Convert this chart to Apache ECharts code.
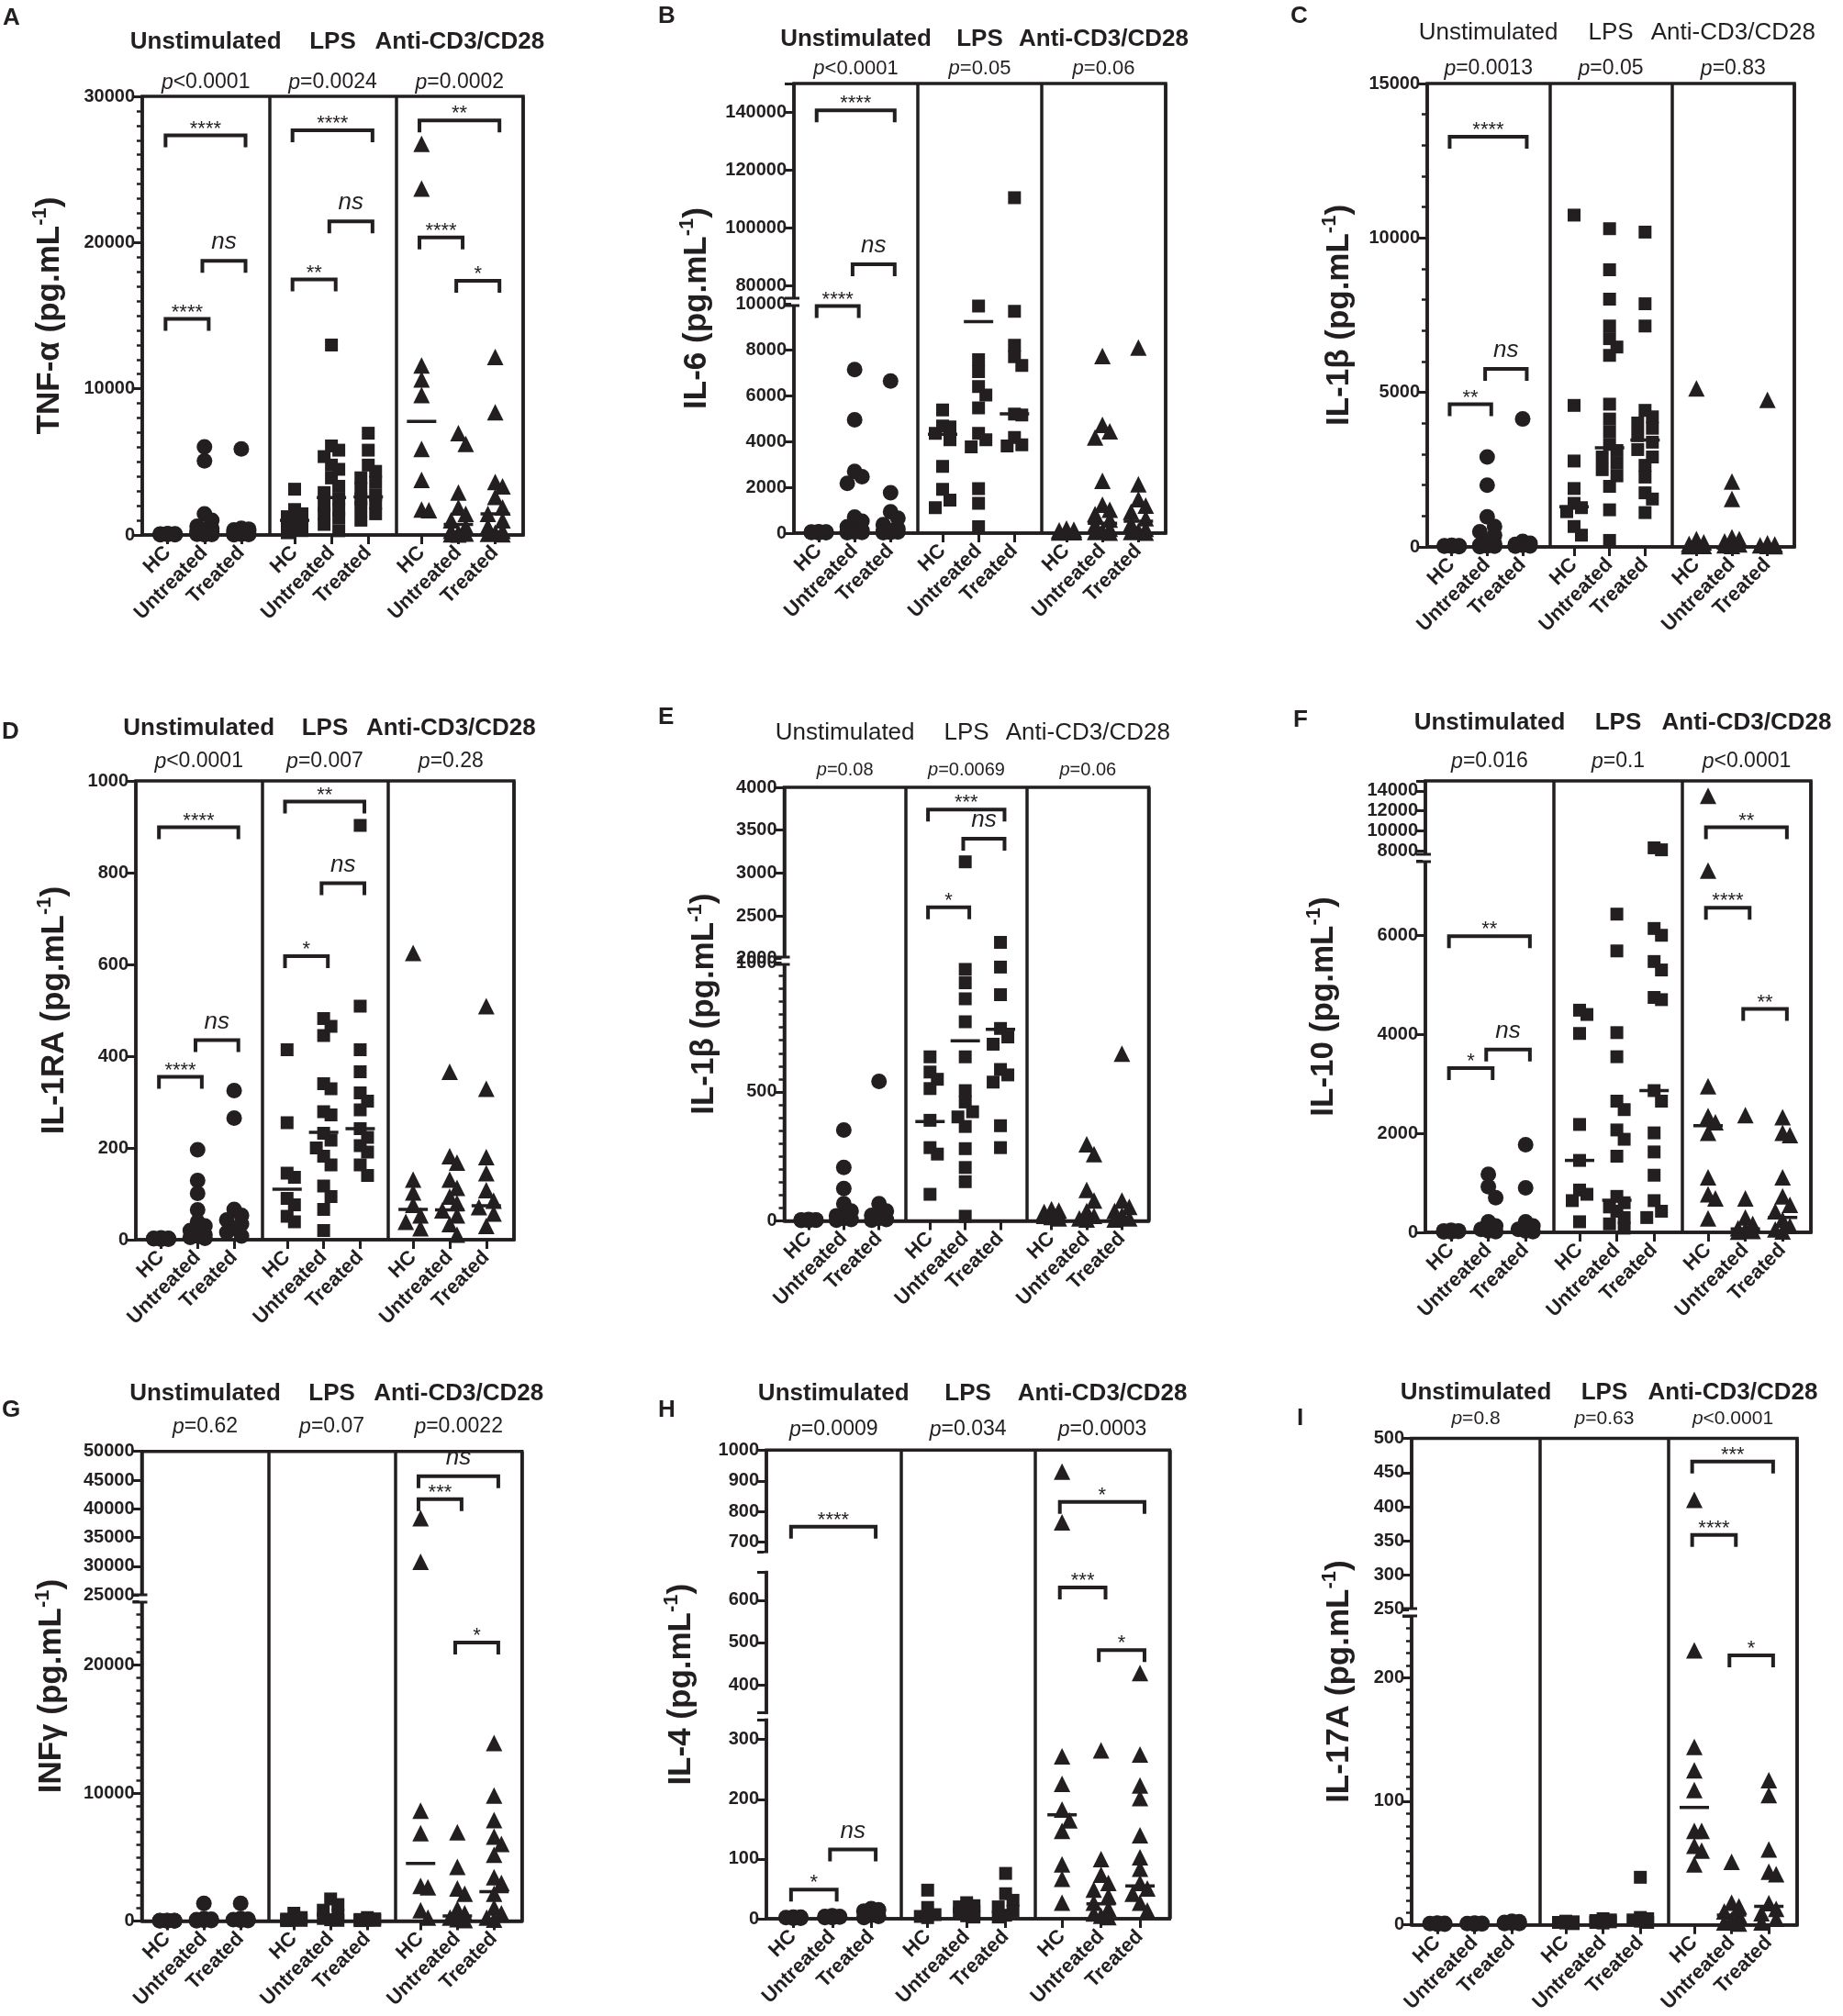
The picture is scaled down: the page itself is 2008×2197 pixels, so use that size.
<!DOCTYPE html>
<html>
<head>
<meta charset="utf-8">
<script src="https://cdn.jsdelivr.net/npm/echarts@6.0.0/dist/echarts.min.js"></script>
<style>
html, body { margin: 0; padding: 0; background: #fff; }
#main { width: 2008px; height: 2197px; }
</style>
</head>
<body>
<div id="main"></div>
<script>
// categories
const cats = ['HC', 'Untreated', 'Treated'];
const groups = ['Unstimulated', 'LPS', 'Anti-CD3/CD28'];

// A  TNF-a : values per group -> [HC, Untreated, Treated]
const tnfUnst = [[20, 40, 60, 80, 30, 50, 70, 10, 90], [6030, 5070, 1450, 1000, 600, 450, 400, 300, 250, 200, 150, 100, 80, 50, 30, 20], [5880, 450, 400, 350, 300, 250, 200, 150, 100, 50, 40, 30, 20]];
const tnfLps = [[3130, 1740, 1450, 1250, 1100, 900, 700, 500, 300, 150], [12990, 6090, 5800, 5360, 4780, 4490, 3900, 3330, 2900, 2460, 2030, 1740, 1450, 1160, 720, 290], [6960, 5800, 4780, 4350, 3910, 3620, 3190, 2750, 2460, 2170, 1880, 1450, 1010]];
const tnfAnti = [[26750, 23700, 11600, 10640, 9570, 5880, 3770, 1740, 1700], [6960, 6230, 2900, 1880, 1450, 1010, 580, 290, 150, 100, 50, 30], [12170, 8400, 3620, 3330, 2610, 1880, 1450, 1010, 580, 290, 150, 80, 40]];
const tnfMed = [[null, null, null], [1000, 2550, 2600], [7770, 720, 1450]];
const tnfP = ['<0.0001', '=0.0024', '=0.0002'];
const tnfSig = [[0, 0, 2, 27330, '****'], [0, 0, 1, 14780, '****'], [0, 1, 2, 18750, 'ns'], [1, 0, 2, 27680, '****'], [1, 0, 1, 17480, '**'], [1, 1, 2, 21450, 'ns'], [2, 0, 2, 28350, '**'], [2, 0, 1, 20350, '****'], [2, 1, 2, 17390, '*']];
const tnfScales = [{min: 0, max: 30000, ticks: [0, 10000, 20000, 30000], minor: 10}];

// B  IL-6
const il6Unst = [[20, 30, 40, 50, 60, 30, 20, 40, 50], [7130, 4940, 2690, 2460, 2170, 700, 520, 280, 190, 120, 80, 50, 30, 20], [6630, 1760, 930, 650, 370, 190, 120, 80, 50, 30, 20]];
const il6Lps = [[5370, 4670, 4630, 4350, 4070, 2910, 1910, 1440, 1110], [9900, 7560, 7040, 6390, 6020, 5460, 4350, 4070, 3760, 1940, 1300, 280], [110400, 9670, 8190, 7690, 7310, 5190, 5150, 4170, 3850, 3800]];
const il6Anti = [[200, 150, 120, 100, 80, 60, 50, 40, 30], [7720, 4720, 4440, 4170, 2280, 1240, 1020, 830, 590, 370, 190, 100, 50, 20], [8090, 2130, 1480, 1200, 930, 650, 410, 190, 100, 50, 20]];
const il6Med = [[null, null, null], [4310, 9220, 5200], [null, 430, 520]];
const il6P = ['<0.0001', '=0.05', '=0.06'];
const il6Sig = [[0, 0, 2, 140700, '****'], [0, 0, 1, 9900, '****'], [0, 1, 2, 87300, 'ns']];
const il6Scales = [{min: 0, max: 10000, ticks: [0, 2000, 4000, 6000, 8000, 10000]}, {min: 80000, max: 150000, ticks: [80000, 100000, 120000, 140000]}];

// C  IL-1b
const il1bUnst = [[10, 20, 30, 40, 50, 20, 30, 40], [2910, 2000, 970, 660, 490, 380, 180, 100, 60, 30, 20, 10], [4140, 180, 120, 80, 50, 30, 20]];
const il1bLps = [[10740, 4580, 2780, 1890, 1410, 1270, 1140, 660, 380], [10300, 8970, 8020, 7150, 6740, 6470, 6200, 4620, 4140, 3730, 3320, 3120, 2910, 2710, 2500, 2300, 1960, 1200, 210], [10190, 7870, 7150, 4420, 4210, 4010, 3840, 3600, 3390, 3150, 2910, 2640, 2260, 1750, 1550, 1110]];
const il1bAnti = [[5130, 250, 150, 100, 60, 30, 20], [2120, 1550, 310, 250, 180, 120, 80, 50, 30], [4760, 120, 80, 50, 30, 20]];
const il1bMed = [[null, null, null], [1300, 3210, 3460], [null, null, null]];
const il1bP = ['=0.0013', '=0.05', '=0.83'];
const il1bSig = [[0, 0, 2, 13280, '****'], [0, 0, 1, 4620, '**'], [0, 1, 2, 5760, 'ns']];
const il1bScales = [{min: 0, max: 15000, ticks: [0, 5000, 10000, 15000], minor: 5}];

// D  IL-1RA
const il1raUnst = [[1, 2, 3, 4, 2, 3, 1, 2], [196, 129, 101, 65, 39, 30, 20, 11, 8, 5, 3], [325, 265, 66, 53, 43, 34, 25, 16, 8]];
const il1raLps = [[414, 255, 145, 136, 90, 76, 51, 39], [482, 465, 445, 340, 329, 279, 272, 232, 217, 200, 182, 163, 117, 94, 66, 20], [903, 509, 414, 366, 320, 302, 283, 242, 223, 205, 191, 163, 140]];
const il1raAnti = [[625, 131, 103, 76, 53, 39, 25], [366, 182, 168, 131, 113, 94, 80, 64, 53, 34, 11], [509, 329, 180, 145, 108, 85, 71, 57, 30]];
const il1raMed = [[null, null, null], [110, 234, 242], [66, 65, 74]];
const il1raP = ['<0.0001', '=0.007', '=0.28'];
const il1raSig = [[0, 0, 2, 899, '****'], [0, 0, 1, 355, '****'], [0, 1, 2, 435, 'ns'], [1, 0, 2, 955, '**'], [1, 0, 1, 618, '*'], [1, 1, 2, 777, 'ns']];
const il1raScales = [{min: 0, max: 1000, ticks: [0, 200, 400, 600, 800, 1000]}];

// E  IL-1b (second assay)
const il1b2Unst = [[2, 3, 4, 5, 3, 2, 4], [352, 207, 125, 67, 38, 20, 10, 5, 3], [541, 67, 38, 21, 10, 5, 3]];
const il1b2Lps = [[636, 577, 549, 513, 390, 284, 259, 103], [3130, 975, 923, 861, 772, 636, 505, 461, 423, 403, 366, 280, 207, 152, 18], [2190, 984, 877, 746, 713, 685, 587, 566, 538, 369, 284]];
const il1b2Anti = [[45, 40, 35, 30, 25, 20, 15, 10], [297, 259, 120, 79, 38, 20, 10, 5], [648, 79, 54, 38, 21, 10, 5]];
const il1b2Med = [[null, null, null], [385, 698, 743], [null, null, null]];
const il1b2P = ['=0.08', '=0.0069', '=0.06'];
const il1b2Sig = [[1, 0, 2, 3740, '***'], [1, 0, 1, 2600, '*'], [1, 1, 2, 3400, 'ns']];
const il1b2Scales = [{min: 0, max: 1000, ticks: [0, 500, 1000], minor: 10}, {min: 2000, max: 4000, ticks: [2000, 2500, 3000, 3500, 4000]}];

// F  IL-10
const il10Unst = [[10, 20, 30, 40, 20, 30, 10], [1171, 923, 701, 214, 128, 60, 30, 15], [1769, 897, 214, 128, 60, 30, 15]];
const il10Lps = [[4487, 4400, 4017, 2179, 1453, 855, 769, 641, 214], [6427, 5684, 4034, 3547, 2650, 2479, 2068, 1880, 1538, 726, 598, 513, 427, 299, 171, 85], [8300, 8100, 6137, 6000, 5470, 5299, 4744, 4700, 2863, 2650, 2009, 1624, 1154, 641, 427, 299]];
const il10Anti = [[13504, 7308, 2949, 2350, 2222, 2009, 1111, 769, 684, 282], [2368, 684, 299, 171, 85, 50, 30, 15], [2325, 2009, 1966, 1111, 726, 556, 427, 256, 128, 60, 20]];
const il10Med = [[null, null, null], [1453, 650, 2863], [2154, 68, 299]];
const il10P = ['=0.016', '=0.1', '<0.0001'];
const il10Sig = [[0, 0, 2, 5983, '**'], [0, 0, 1, 3316, '*'], [0, 1, 2, 3692, 'ns'], [2, 0, 2, 10353, '**'], [2, 0, 1, 6556, '****'], [2, 1, 2, 4513, '**']];
const il10Scales = [{min: 0, max: 7500, ticks: [0, 2000, 4000, 6000]}, {min: 8000, max: 15000, ticks: [8000, 10000, 12000, 14000]}];

// G  INFg
const ifngUnst = [[10, 20, 30, 40, 20, 30, 10, 20], [1387, 200, 150, 100, 50, 30, 20], [1387, 200, 150, 100, 50, 30]];
const ifngLps = [[609, 271, 150, 100, 50, 30], [1726, 1286, 846, 440, 200, 100, 50], [271, 169, 120, 80, 50, 30]];
const ifngAnti = [[38383, 30789, 8629, 6870, 2741, 2640, 846, 271], [6937, 4230, 2538, 2132, 948, 609, 271, 150, 80], [13909, 9814, 7885, 6599, 6024, 5178, 3418, 2978, 2132, 1049, 609, 271, 100]];
const ifngMed = [[null, null, null], [null, null, null], [4500, 400, 2301]];
const ifngP = ['=0.62', '=0.07', '=0.0022'];
const ifngSig = [[2, 0, 2, 45677, 'ns'], [2, 0, 1, 41692, '***'], [2, 1, 2, 21760, '*']];
const ifngScales = [{min: 0, max: 25000, ticks: [0, 10000, 20000], minor: 10}, {min: 25000, max: 50000, ticks: [25000, 30000, 35000, 40000, 45000, 50000]}];

// H  IL-4
const il4Unst = [[1, 2, 3, 2, 1, 3, 2], [2, 3, 4, 5, 3, 2, 4], [17, 13, 6, 4, 2, 15]];
const il4Lps = [[48, 19, 7, 4, 2], [27, 20, 14, 9, 5, 3, 22, 12], [76, 42, 31, 20, 13, 6, 3]];
const il4Anti = [[930, 765, 272, 226, 183, 165, 147, 91, 67, 27], [282, 100, 74, 60, 49, 38, 27, 17, 9, 5, 3], [428, 275, 223, 202, 140, 103, 84, 60, 51, 42, 27, 14]];
const il4Med = [[null, null, null], [null, null, null], [174, 25, 55]];
const il4P = ['=0.0009', '=0.034', '=0.0003'];
const il4Sig = [[0, 0, 2, 751, '****'], [0, 0, 1, 49, '*'], [0, 1, 2, 116, 'ns'], [2, 0, 2, 831, '*'], [2, 0, 1, 630, '***'], [2, 1, 2, 482, '*']];
const il4Scales = [{min: 0, max: 333, ticks: [0, 100, 200, 300]}, {min: 334, max: 666, ticks: [400, 500, 600], custom: true}, {min: 669, max: 1000, ticks: [700, 800, 900, 1000], custom: true}];

// I  IL-17A
const il17Unst = [[0.5, 1, 1.5, 1, 0.5, 1.2], [0.5, 1, 1.5, 1, 0.8, 1.2], [1, 2, 3, 1.5, 2.5, 1]];
const il17Lps = [[1, 2, 3, 1.5, 2.5], [4, 2, 3, 5, 1.5, 2.5, 3.5], [38.5, 6, 4, 3, 2, 5]];
const il17Anti = [[410, 222, 144, 125, 109, 76, 76, 64, 60, 49], [51, 18, 15, 11, 8, 4, 2, 1], [117, 105, 61, 43, 41, 17.5, 13, 9.5, 5, 2]];
const il17Med = [[null, null, null], [null, null, null], [95, 8, 15]];
const il17P = ['=0.8', '=0.63', '<0.0001'];
const il17Sig = [[2, 0, 2, 466, '***'], [2, 0, 1, 359, '****'], [2, 1, 2, 218, '*']];
const il17Scales = [{min: 0, max: 250, ticks: [0, 100, 200], minor: 10}, {min: 250, max: 500, ticks: [250, 300, 350, 400, 450, 500]}];

// page layout (pixels): frame = [left, top, right, bottom], segs = [top, bottom] per y segment
const LAYOUT = {
  A: {frame: [155, 105, 570, 583], segs: [[105, 583]], letter: [3, 7], titleY: 46, pY: 89, nameGap: 80, bold: true, pf: 23},
  B: {frame: [865, 91, 1270, 581], segs: [[331, 581], [91, 311]], letter: [717, 5], titleY: 43, pY: 74, nameGap: 85, bold: true, pf: 22, breaks: [329]},
  C: {frame: [1555, 91, 1955, 596], segs: [[91, 596]], letter: [1406, 5], titleY: 36, pY: 74, nameGap: 75, bold: false, pf: 23},
  D: {frame: [148, 851, 560, 1351], segs: [[851, 1351]], letter: [2, 785], titleY: 794, pY: 829, nameGap: 68, bold: true, pf: 23},
  E: {frame: [854.5, 858, 1251.5, 1330.5], segs: [[1049.4, 1330.5], [858, 1044.7]], letter: [717, 769], titleY: 799, pY: 838, nameGap: 66, bold: false, pf: 20, breaks: [1047]},
  F: {frame: [1553, 851, 1973, 1343], segs: [[938.3, 1343], [851, 927.2]], letter: [1409, 772], titleY: 788, pY: 829, nameGap: 90, bold: true, pf: 23, breaks: [935]},
  G: {frame: [154.5, 1581.7, 568.7, 2093.5], segs: [[1744.9, 2093.5], [1581.7, 1738.3]], letter: [2, 1524], titleY: 1519, pY: 1554, nameGap: 77, bold: true, pf: 23, breaks: [1742]},
  H: {frame: [835, 1580.3, 1274.3, 2091.1], segs: [[1874.2, 2091.1], [1713.3, 1866.6], [1580.3, 1691.1]], letter: [717, 1524], titleY: 1519, pY: 1557, nameGap: 72, bold: true, pf: 23, gaps: [[1691.1, 1713.3], [1866.6, 1874.2]]},
  I: {frame: [1538, 1567.5, 1958, 2097.7], segs: [[1760.9, 2097.7], [1567.5, 1753.9]], letter: [1413, 1533], titleY: 1518, pY: 1545, nameGap: 58, bold: true, pf: 21, breaks: [1757]}
};
// horizontal place of HC / Untreated / Treated inside a 3-unit stimulation block
const CAT_POS = [0.6, 1.47, 2.34];

const panels = [
  {key: 'A', name: 'TNF-α', data: [tnfUnst, tnfLps, tnfAnti], med: tnfMed, p: tnfP, sig: tnfSig, scales: tnfScales},
  {key: 'B', name: 'IL-6', data: [il6Unst, il6Lps, il6Anti], med: il6Med, p: il6P, sig: il6Sig, scales: il6Scales},
  {key: 'C', name: 'IL-1β', data: [il1bUnst, il1bLps, il1bAnti], med: il1bMed, p: il1bP, sig: il1bSig, scales: il1bScales},
  {key: 'D', name: 'IL-1RA', data: [il1raUnst, il1raLps, il1raAnti], med: il1raMed, p: il1raP, sig: il1raSig, scales: il1raScales},
  {key: 'E', name: 'IL-1β', data: [il1b2Unst, il1b2Lps, il1b2Anti], med: il1b2Med, p: il1b2P, sig: il1b2Sig, scales: il1b2Scales},
  {key: 'F', name: 'IL-10', data: [il10Unst, il10Lps, il10Anti], med: il10Med, p: il10P, sig: il10Sig, scales: il10Scales},
  {key: 'G', name: 'INFγ', data: [ifngUnst, ifngLps, ifngAnti], med: ifngMed, p: ifngP, sig: ifngSig, scales: ifngScales},
  {key: 'H', name: 'IL-4', data: [il4Unst, il4Lps, il4Anti], med: il4Med, p: il4P, sig: il4Sig, scales: il4Scales},
  {key: 'I', name: 'IL-17A', data: [il17Unst, il17Lps, il17Anti], med: il17Med, p: il17P, sig: il17Sig, scales: il17Scales}
];

const ink = '#231f20';
const FONT = '"Liberation Sans", Arial, sans-serif';
const symbols = ['circle', 'rect', 'triangle'];
const symSize = [17, 14, 18];

const xOf = (g, c) => g * 3 + CAT_POS[c];
const catX = [0, 1, 2].flatMap(g => [0, 1, 2].map(c => xOf(g, c)));

function segOf(scales, v) {
  for (let i = 0; i < scales.length; i++) {
    if (v >= scales[i].min && v <= scales[i].max) return i;
  }
  return v < scales[0].min ? 0 : scales.length - 1;
}

function ypxOf(P, lay, v) {
  const si = segOf(P.scales, v), S = P.scales[si], s = lay.segs[si];
  return s[1] - (v - S.min) / (S.max - S.min) * (s[1] - s[0]);
}

// spread overlapping points sideways like a column scatter
function swarm(ys, unit, size) {
  const order = ys.map((y, i) => i).sort((a, b) => ys[a] - ys[b]);
  const off = new Array(ys.length).fill(0);
  const placed = [];
  const step = size * 0.5 / unit, maxOff = 0.3;
  order.forEach(i => {
    let best = 0, bestD = -1;
    for (const k of [0, 1, -1, 2, -2]) {
      const dx = k * step;
      if (Math.abs(dx) > maxOff) continue;
      let d = Infinity;
      placed.forEach(p => { d = Math.min(d, Math.hypot((dx - p[0]) * unit, ys[i] - p[1])); });
      if (d >= size * 0.75) { best = dx; break; }
      if (d > bestD) { bestD = d; best = dx; }
    }
    off[i] = best;
    placed.push([best, ys[i]]);
  });
  return off;
}

const grid = [], xAxis = [], yAxis = [], series = [], title = [], graphic = [];

panels.forEach(P => {
  const lay = LAYOUT[P.key];
  const [fl, ft, fr, fb] = lay.frame;
  const fw = fr - fl;
  const unit = fw / 9;

  title.push({text: P.key, left: lay.letter[0], top: lay.letter[1], padding: 0,
    textStyle: {fontFamily: FONT, fontWeight: 'bold', fontSize: 26, color: ink}});

  // frame grid: border, dividers, category labels, headers, y title
  const gi = grid.length;
  grid.push({left: fl, top: ft, width: fw, height: fb - ft, show: true, borderColor: ink, borderWidth: 3.5});
  xAxis.push({type: 'value', gridIndex: gi, position: 'bottom', min: 0, max: 9, splitLine: {show: false},
    axisLine: {show: true, lineStyle: {color: ink, width: 3.5}},
    axisTick: {show: true, customValues: catX, length: 10, lineStyle: {color: ink, width: 3}},
    axisLabel: {customValues: catX, rotate: 45, margin: 16, fontFamily: FONT, fontWeight: 'bold', fontSize: 22, color: ink,
      formatter: v => {
        let best = 0;
        catX.forEach((x, i) => { if (Math.abs(x - v) < Math.abs(catX[best] - v)) best = i; });
        return cats[best % 3];
      }}});
  xAxis.push({type: 'category', gridIndex: gi, position: 'top', data: ['0', '1', '2'],
    axisLine: {show: false}, axisTick: {show: false},
    splitLine: {show: true, interval: 0, lineStyle: {color: ink, width: 3.5}},
    axisLabel: {interval: 0, margin: ft - lay.pY - lay.pf * 0.55,
      formatter: (v, i) => '{i|p}{n|' + P.p[i] + '}',
      rich: {i: {fontFamily: FONT, fontStyle: 'italic', fontSize: lay.pf, color: ink},
             n: {fontFamily: FONT, fontSize: lay.pf, color: ink}}}});
  xAxis.push({type: 'category', gridIndex: gi, position: 'top', data: groups,
    axisLine: {show: false}, axisTick: {show: false},
    axisLabel: {interval: 0, margin: ft - lay.titleY - 13, fontFamily: FONT,
      fontWeight: lay.bold ? 'bold' : 'normal', fontSize: 26, color: ink}});
  yAxis.push({type: 'value', gridIndex: gi, min: 0, max: 1,
    axisLine: {show: false}, axisTick: {show: false}, axisLabel: {show: false}, splitLine: {show: false},
    name: '{b|' + P.name + ' (pg.mL}{s|-1}{b|)}', nameLocation: 'middle', nameRotate: 90, nameGap: lay.nameGap,
    nameTextStyle: {rich: {
      b: {fontFamily: FONT, fontWeight: 'bold', fontSize: 35, color: ink, lineHeight: 42},
      s: {fontFamily: FONT, fontWeight: 'bold', fontSize: 22, color: ink, lineHeight: 24, verticalAlign: 'top'}}}});

  // jitter offsets per group / category
  const offs = P.data.map(grp => grp.map(vals => swarm(vals.map(v => ypxOf(P, lay, v)), unit, 16)));

  P.scales.forEach((S, si) => {
    const [st, sb] = lay.segs[si];
    const g = grid.length;
    grid.push({left: fl, top: st, width: fw, height: sb - st, show: false});
    const xi = xAxis.length, yi = yAxis.length;
    xAxis.push({type: 'value', gridIndex: g, min: 0, max: 9, show: false});
    const ya = {type: 'value', gridIndex: g, min: S.min, max: S.max,
      axisLine: {show: false}, splitLine: {show: false},
      axisTick: {show: true, length: 10, lineStyle: {color: ink, width: 3}},
      axisLabel: {margin: 8, fontFamily: FONT, fontWeight: 'bold', fontSize: 20, color: ink,
        formatter: v => (S.ticks.indexOf(v) >= 0 ? String(v) : '')}};
    if (S.custom) {
      ya.axisTick.customValues = [S.min].concat(S.ticks, [S.max]);
      ya.axisLabel.customValues = S.ticks;
    } else {
      ya.interval = S.ticks[1] - S.ticks[0];
    }
    if (S.minor) ya.minorTick = {show: true, splitNumber: S.minor, length: 6, lineStyle: {color: ink, width: 2.5}};
    yAxis.push(ya);

    for (let gr = 0; gr < 3; gr++) {
      const pts = [], meds = [];
      for (let c = 0; c < 3; c++) {
        P.data[gr][c].forEach((v, k) => {
          if (segOf(P.scales, v) === si) pts.push([xOf(gr, c) + offs[gr][c][k], v]);
        });
        const m = P.med[gr][c];
        if (m != null && segOf(P.scales, m) === si) meds.push([xOf(gr, c), m]);
      }
      series.push({type: 'scatter', xAxisIndex: xi, yAxisIndex: yi, symbol: symbols[gr], symbolSize: symSize[gr],
        itemStyle: {color: ink, opacity: 1}, data: pts, z: 4, silent: true});
      if (meds.length) series.push({type: 'scatter', xAxisIndex: xi, yAxisIndex: yi, symbol: 'rect', symbolSize: [32, 3.5],
        itemStyle: {color: ink, opacity: 1}, data: meds, z: 5, silent: true});
    }

    const sigs = P.sig.filter(s => segOf(P.scales, s[3]) === si);
    if (sigs.length) {
      series.push({type: 'custom', xAxisIndex: xi, yAxisIndex: yi, z: 6, silent: true,
        encode: {x: [0, 1], y: 2},
        data: sigs.map(s => [xOf(s[0], s[1]) - 0.05, xOf(s[0], s[2]) + 0.1, s[3]]),
        renderItem: (params, api) => {
          const lab = sigs[params.dataIndex][4];
          const p1 = api.coord([api.value(0), api.value(2)]);
          const p2 = api.coord([api.value(1), api.value(2)]);
          const ns = lab === 'ns';
          return {type: 'group', children: [
            {type: 'polyline', shape: {points: [[p1[0], p1[1] + 13], p1, p2, [p2[0], p2[1] + 13]]},
             style: {stroke: ink, lineWidth: 4, fill: null}},
            {type: 'text', x: (p1[0] + p2[0]) / 2, y: p1[1] - (ns ? 20 : 7),
             style: {text: lab, align: 'center', verticalAlign: 'middle', fill: ink,
               font: (ns ? 'italic 26px ' : '22px ') + FONT}}
          ]};
        }});
    }
  });

  // axis breaks
  (lay.breaks || []).forEach(y => {
    graphic.push({type: 'rect', z: 100, shape: {x: fl - 3, y: y - 3, width: 6, height: 6}, style: {fill: '#fff'}});
    graphic.push({type: 'line', z: 101, shape: {x1: fl - 10, y1: y - 4, x2: fl + 6, y2: y - 4}, style: {stroke: ink, lineWidth: 3}});
    graphic.push({type: 'line', z: 101, shape: {x1: fl - 10, y1: y + 4, x2: fl + 6, y2: y + 4}, style: {stroke: ink, lineWidth: 3}});
  });
  (lay.gaps || []).forEach(gp => {
    graphic.push({type: 'rect', z: 100, shape: {x: fl - 3, y: gp[0] + 1.5, width: 6, height: gp[1] - gp[0] - 3}, style: {fill: '#fff'}});
  });
});

const chart = echarts.init(document.getElementById('main'));
chart.setOption({
  backgroundColor: '#fff',
  animation: false,
  title: title,
  grid: grid,
  xAxis: xAxis,
  yAxis: yAxis,
  series: series,
  graphic: graphic
});
</script>
</body>
</html>
